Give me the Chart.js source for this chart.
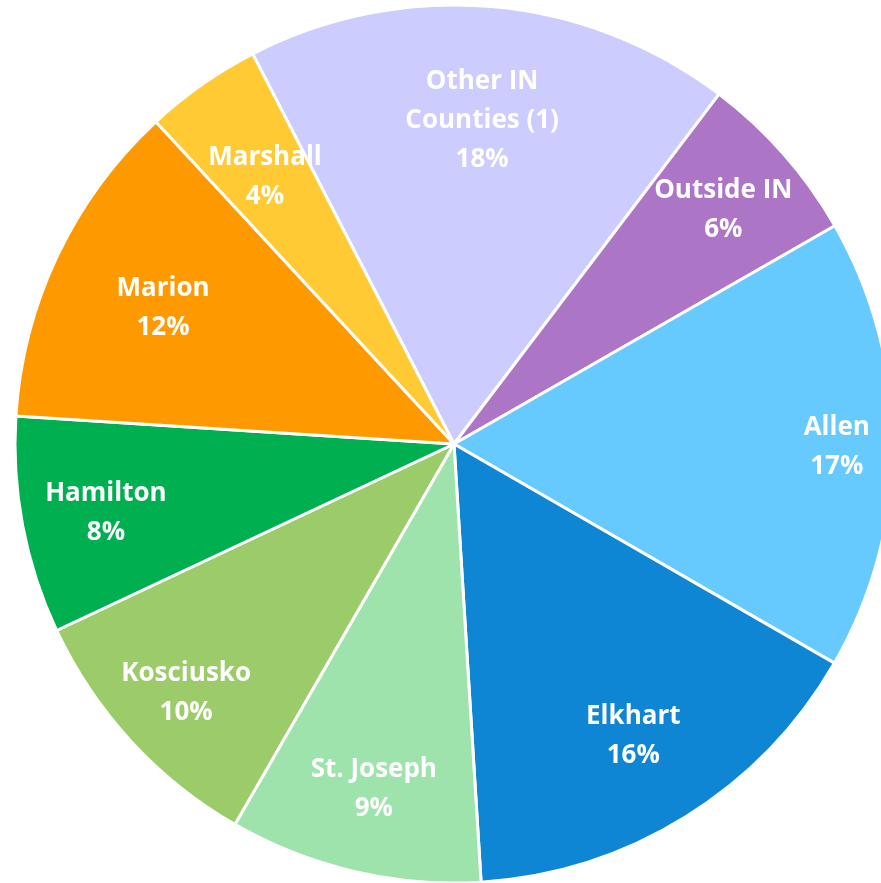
<!DOCTYPE html>
<html>
<head>
<meta charset="utf-8">
<script src="https://cdn.jsdelivr.net/npm/chart.js@4"></script>
<style>
html,body{margin:0;padding:0;background:#fff;overflow:hidden;width:881px;height:883px;}
#wrap{position:absolute;left:0;top:0;width:908px;height:888px;}
</style>
</head>
<body>
<div id="wrap"><canvas id="c" width="908" height="888"></canvas></div>
<script>
const categories = [["Other IN","Counties (1)"],["Outside IN"],["Allen"],["Elkhart"],["St. Joseph"],["Kosciusko"],["Hamilton"],["Marion"],["Marshall"]];
const shares = [17.9, 6.4, 16.6, 15.7, 9.3, 9.7, 8.0, 12.1, 4.3];
const colors = ["#CCCCFF","#AD75C6","#66CAFE","#0E86D4","#9EE2AC","#9CCB69","#00AF50","#FF9900","#FFCA33"];
const labelDist = [0.747, 0.817, 0.872, 0.775, 0.80, 0.829, 0.807, 0.734, 0.75];

const labelPlugin = {
  id: 'sliceLabels',
  afterDatasetsDraw(chart, args, opts) {
    const ctx = chart.ctx;
    const meta = chart.getDatasetMeta(0);
    const total = shares.reduce((a,b)=>a+b,0);
    ctx.save();
    ctx.fillStyle = '#ffffff';
    ctx.font = 'bold 26px "Open Sans"';
    ctx.textAlign = 'center';
    ctx.textBaseline = 'middle';
    const lh = 39;
    meta.data.forEach((arc, i) => {
      const p = arc.getProps(['x','y','startAngle','endAngle','outerRadius'], true);
      const mid = (p.startAngle + p.endAngle)/2;
      const r = p.outerRadius * labelDist[i];
      const x = p.x + Math.cos(mid)*r;
      const y = p.y + Math.sin(mid)*r + 3;
      const lines = categories[i].concat([Math.round(shares[i]/total*100) + '%']);
      const y0 = y - (lines.length-1)*lh/2;
      lines.forEach((t, k) => ctx.fillText(t, x, y0 + k*lh));
    });
    ctx.restore();
  }
};

new Chart(document.getElementById('c'), {
  type: 'pie',
  data: {
    labels: categories.map(c => c.join(' ')),
    datasets: [{
      data: shares,
      backgroundColor: colors,
      borderColor: '#ffffff',
      borderWidth: 3
    }]
  },
  options: {
    responsive: false,
    animation: false,
    rotation: -27.3,
    radius: 439,
    layout: { padding: 0 },
    plugins: { legend: { display: false }, tooltip: { enabled: false } }
  },
  plugins: [labelPlugin]
});
</script>
</body>
</html>
